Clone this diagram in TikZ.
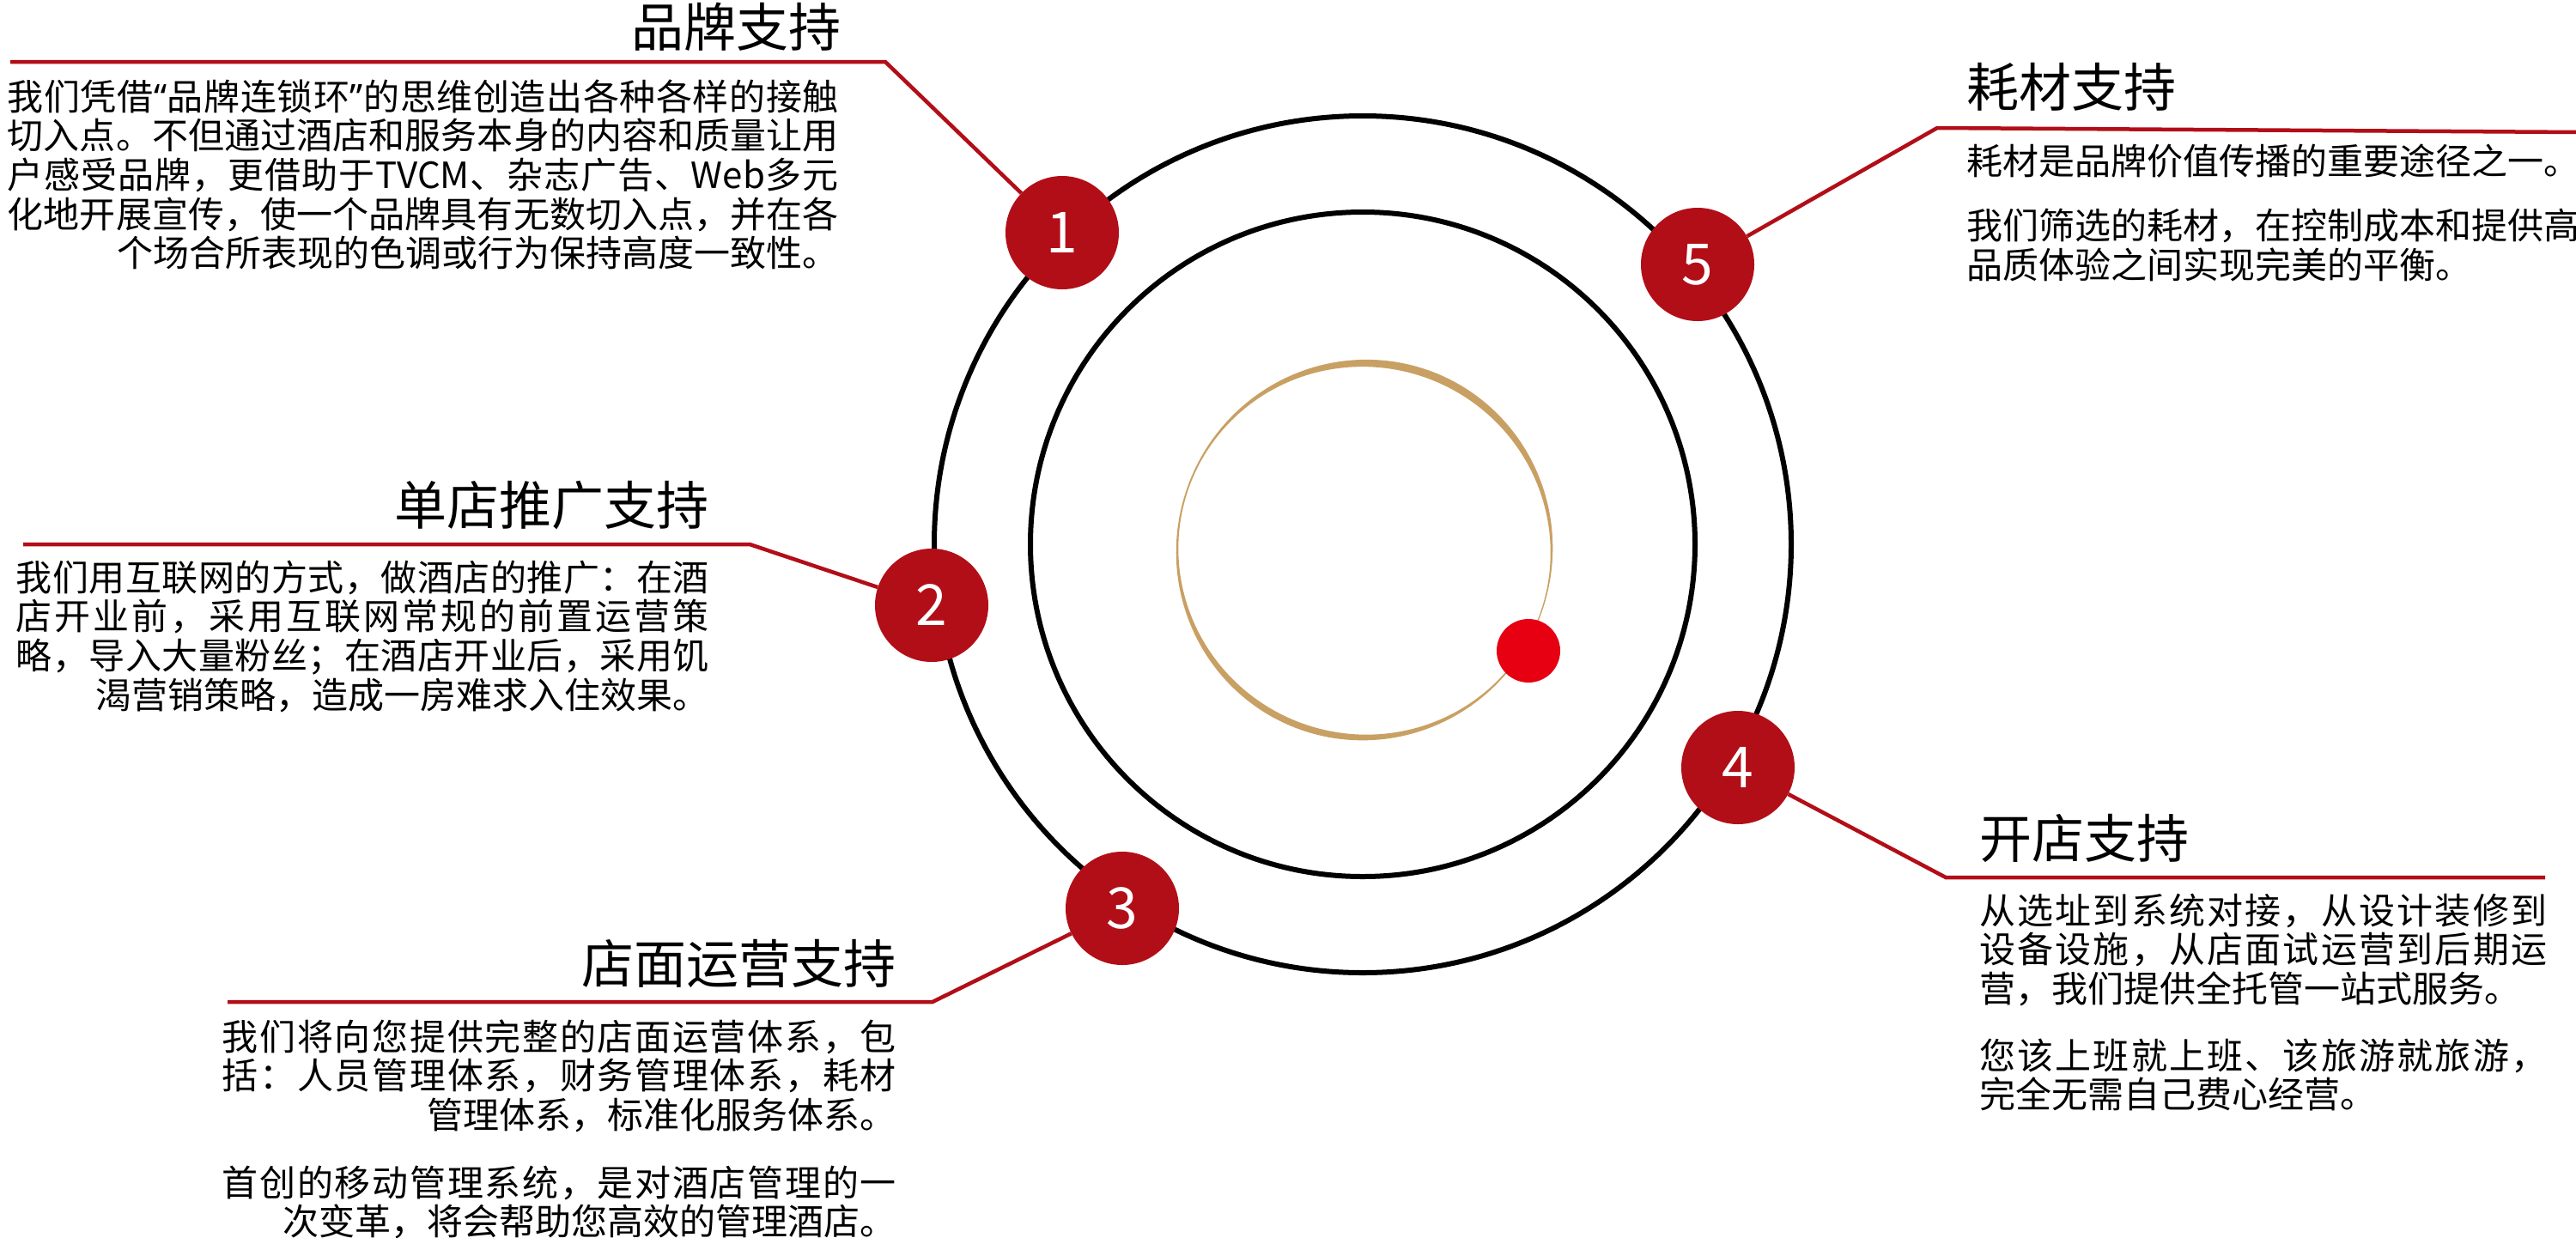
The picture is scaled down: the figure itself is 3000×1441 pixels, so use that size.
\documentclass[tikz,border=0pt]{standalone}
\usepackage{fontspec}
\newfontfamily\cjk{Noto Sans CJK SC}
\newfontfamily\latinq{Noto Sans}
\definecolor{brandred}{RGB}{178,14,24}
\definecolor{dotred}{RGB}{230,0,18}
\definecolor{goldc}{RGB}{201,160,99}
\newcommand\cjkspread[1]{\ifx\relax#1\else#1\hfil\expandafter\cjkspread\fi}
\newcommand\jl[2]{\hbox to #1{\cjkspread#2\relax\unskip}}
\newcommand\rline[2]{\hbox to #1{\hfill#2}}
\newcommand\lline[2]{\hbox to #1{#2\hfill}}
\newcommand\bodyfont{\cjk\fontsize{42}{45.7}\selectfont}
\newcommand\headfont{\cjk\fontsize{61}{70}\selectfont}
\newcommand\digitfont{\cjk\fontsize{66}{70}\selectfont}
\tikzset{
  head/.style={inner sep=0pt, font=\headfont, text=black},
  body/.style={inner sep=0pt, font=\bodyfont, text=black},
  numc/.style={circle, fill=brandred, minimum size=132pt, inner sep=0pt, text=white, font=\digitfont},
  ringst/.style={circle, draw=black, line width=6pt, inner sep=0pt},
  conn/.style={draw=brandred, line width=4.5pt, line join=miter},
  declare function={gw(\t)=5+3.4*cos(2*(\t+68))-0.8*sin(\t);}
}
\begin{document}
\begin{tikzpicture}[x=1pt,y=-1pt]
\useasboundingbox (0,0) rectangle (3000,1441);
\clip (0,0) rectangle (3000,1441);
\fill[white] (0,0) rectangle (3000,1441);
% rings
\node[ringst, minimum size=998pt] (outer) at (1587,634) {};
\node[ringst, minimum size=774pt] (inner) at (1587,634) {};
% gold brush ring
\fill[goldc, even odd rule]
  plot[domain=0:360, samples=240] ({1589+(218+gw(\x)/2)*cos(\x)},{641+(218+gw(\x)/2)*sin(\x)}) -- cycle
  plot[domain=0:360, samples=240] ({1589+(218-gw(\x)/2)*cos(\x)},{641+(218-gw(\x)/2)*sin(\x)}) -- cycle;
\node[circle, fill=dotred, minimum size=74pt, inner sep=0pt] (dot) at (1780,758) {};
% numbered circles
\node[numc] (c1) at (1237,271) {1};
\node[numc] (c2) at (1085,705) {2};
\node[numc] (c3) at (1307,1058) {3};
\node[numc] (c4) at (2024,894) {4};
\node[numc] (c5) at (1977,308) {5};
% connectors
\coordinate (a1) at (12,72);   \coordinate (b1) at (1031,72);
\coordinate (a2) at (27,634);  \coordinate (b2) at (873,634);
\coordinate (a3) at (265,1167); \coordinate (b3) at (1086,1167);
\coordinate (a4) at (2964,1022); \coordinate (b4) at (2266,1022);
\coordinate (a5) at (3005,154); \coordinate (b5) at (2256,149);
\draw[conn] (a1) -- (b1) -- (c1);
\draw[conn] (a2) -- (b2) -- (c2);
\draw[conn] (a3) -- (b3) -- (c3);
\draw[conn] (a4) -- (b4) -- (c4);
\draw[conn] (a5) -- (b5) -- (c5);
% headings
\node[head, anchor=base east] (h1) at (980,54) {品牌支持};
\node[head, anchor=base east] (h2) at (826,611) {单店推广支持};
\node[head, anchor=base east] (h3) at (1044,1145) {店面运营支持};
\node[head, anchor=base west] (h4) at (2305,999) {开店支持};
\node[head, anchor=base west] (h5) at (2290,124) {耗材支持};
% texts
\node[body, anchor=base east] (t1) at (977,128) {\vtop{%
\jl{968pt}{我们凭借{{\latinq“}}品牌连锁环{{\latinq”}}的思维创造出各种各样的接触}%
\jl{968pt}{切入点。不但通过酒店和服务本身的内容和质量让用}%
\jl{968pt}{户感受品牌，更借助于{TVCM}、杂志广告、{Web}多元}%
\jl{968pt}{化地开展宣传，使一个品牌具有无数切入点，并在各}%
\rline{968pt}{个场合所表现的色调或行为保持高度一致性。}}};
\node[body, anchor=base east] (t2) at (826,688) {\vtop{%
\jl{807pt}{我们用互联网的方式，做酒店的推广：在酒}%
\jl{807pt}{店开业前，采用互联网常规的前置运营策}%
\jl{807pt}{略，导入大量粉丝；在酒店开业后，采用饥}%
\rline{807pt}{渴营销策略，造成一房难求入住效果。}}};
\node[body, anchor=base east] (t3) at (1044,1223) {\vtop{%
\jl{785pt}{我们将向您提供完整的店面运营体系，包}%
\jl{785pt}{括：人员管理体系，财务管理体系，耗材}%
\rline{785pt}{管理体系，标准化服务体系。}%
\vskip 33pt%
\jl{785pt}{首创的移动管理系统，是对酒店管理的一}%
\rline{785pt}{次变革，将会帮助您高效的管理酒店。}}};
\node[body, anchor=base west] (t4) at (2305,1076) {\vtop{%
\jl{661pt}{从选址到系统对接，从设计装修到}%
\jl{661pt}{设备设施，从店面试运营到后期运}%
\lline{661pt}{营，我们提供全托管一站式服务。}%
\vskip 32pt%
\jl{661pt}{您该上班就上班、该旅游就旅游，}%
\lline{661pt}{完全无需自己费心经营。}}};
\node[body, anchor=base west] (t5) at (2290,203) {\vtop{%
\hbox{耗材是品牌价值传播的重要途径之一。}%
\vskip 30pt%
\hbox{我们筛选的耗材，在控制成本和提供高}%
\hbox{品质体验之间实现完美的平衡。}}};
\end{tikzpicture}
\end{document}
